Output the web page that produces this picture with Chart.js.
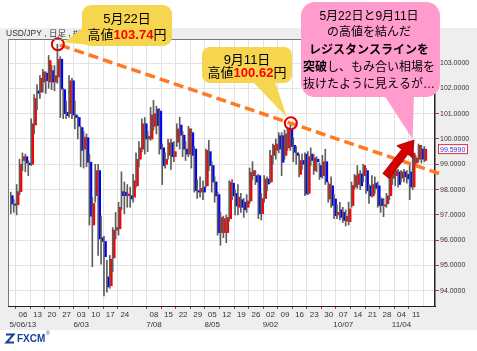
<!DOCTYPE html>
<html>
<head>
<meta charset="utf-8">
<script src="https://cdn.jsdelivr.net/npm/chart.js@4.4.1/dist/chart.umd.min.js"></script>
<style>
  html, body { margin: 0; padding: 0; background: #fff; }
</style>
</head>
<body>
<canvas id="chart" width="477" height="351"></canvas>
<script>
// USD/JPY daily candles, 2013-04-30 .. 2013-11-14
const days = [
  '4/30','5/1','5/2','5/3',
  '5/6','5/7','5/8','5/9','5/10',
  '5/13','5/14','5/15','5/16','5/17',
  '5/20','5/21','5/22','5/23','5/24',
  '5/27','5/28','5/29','5/30','5/31',
  '6/3','6/4','6/5','6/6','6/7',
  '6/10','6/11','6/12','6/13','6/14',
  '6/17','6/18','6/19','6/20','6/21',
  '6/24','6/25','6/26','6/27','6/28',
  '7/1','7/2','7/3','7/4','7/5',
  '7/8','7/9','7/10','7/11','7/12',
  '7/15','7/16','7/17','7/18','7/19',
  '7/22','7/23','7/24','7/25','7/26',
  '7/29','7/30','7/31','8/1','8/2',
  '8/5','8/6','8/7','8/8','8/9',
  '8/12','8/13','8/14','8/15','8/16',
  '8/19','8/20','8/21','8/22','8/23',
  '8/26','8/27','8/28','8/29','8/30',
  '9/2','9/3','9/4','9/5','9/6',
  '9/9','9/10','9/11','9/12','9/13',
  '9/16','9/17','9/18','9/19','9/20',
  '9/23','9/24','9/25','9/26','9/27',
  '9/30','10/1','10/2','10/3','10/4',
  '10/7','10/8','10/9','10/10','10/11',
  '10/14','10/15','10/16','10/17','10/18',
  '10/21','10/22','10/23','10/24','10/25',
  '10/28','10/29','10/30','10/31','11/1',
  '11/4','11/5','11/6','11/7','11/8',
  '11/11','11/12','11/13','11/14'
];

const open = [
  97.76,97.43,97.40,97.92,
  99.15,99.30,99.05,99.00,100.55,
  101.90,101.85,102.25,102.60,102.25,
  102.70,102.25,102.45,103.15,101.95,
  101.05,101.00,102.30,100.95,100.85,
  100.45,99.60,100.05,99.08,96.60,
  97.76,98.75,96.10,95.95,94.55,
  94.20,95.30,96.40,96.45,97.92,
  97.90,97.76,97.76,97.70,98.15,
  99.20,99.60,100.60,100.00,100.00,
  100.50,101.18,101.10,99.65,99.00,
  99.35,99.85,99.30,99.87,100.55,
  100.15,99.60,99.40,100.25,99.60,
  97.96,97.90,98.10,98.15,99.50,
  98.95,98.30,97.80,96.30,96.30,
  96.30,96.85,98.25,97.85,97.30,
  97.60,97.50,97.30,97.55,98.55,
  98.55,98.55,97.05,97.65,98.42,
  98.30,99.35,99.55,100.13,100.13,
  99.35,99.65,100.35,99.75,99.45,
  98.60,99.15,99.40,97.85,99.40,
  98.75,99.20,98.95,98.55,99.10,
  97.63,98.15,97.63,97.00,97.20,
  97.10,96.75,96.73,97.37,98.10,
  98.20,98.62,98.55,98.75,98.15,
  97.75,98.25,98.15,97.63,97.35,
  97.44,97.76,98.45,98.55,98.70,
  98.45,98.70,98.60,98.70,98.10,
  99.05,99.20,99.60,99.15
];

const high = [
  97.90,97.60,98.20,99.20,
  99.45,99.40,99.14,100.80,101.75,
  102.15,102.50,102.75,102.65,103.30,
  102.90,102.90,103.74,103.25,102.00,
  101.50,102.50,102.40,101.50,100.90,
  100.50,100.30,100.20,99.40,97.70,
  99.00,99.00,96.95,96.15,95.20,
  95.40,96.50,97.10,97.50,98.70,
  98.30,98.20,98.10,98.60,99.45,
  99.90,100.80,100.85,100.30,101.25,
  101.53,101.30,101.20,99.80,99.45,
  100.00,100.00,99.90,100.60,100.86,
  100.30,99.90,100.50,100.40,99.70,
  98.40,98.50,98.35,99.60,99.95,
  99.10,98.50,97.90,97.10,96.95,
  97.00,98.35,98.40,98.00,98.20,
  97.85,97.65,97.80,98.85,99.10,
  98.75,98.60,97.85,98.55,98.50,
  99.55,99.80,100.00,100.25,100.25,
  100.35,100.45,100.62,100.05,99.70,
  99.40,99.40,99.45,99.50,99.65,
  99.40,99.30,99.05,99.35,99.60,
  98.30,98.50,97.80,97.40,97.50,
  97.30,97.20,97.50,98.30,98.60,
  98.95,98.75,99.00,98.85,98.20,
  98.55,98.50,98.30,97.70,97.65,
  97.85,98.60,98.75,98.90,98.80,
  98.75,98.80,98.75,99.05,99.55,
  99.35,99.80,99.75,99.70
];

const low = [
  97.05,97.10,97.00,97.80,
  98.75,98.70,98.55,98.95,100.20,
  101.15,101.60,101.85,101.80,102.00,
  101.95,101.90,102.20,100.85,100.80,
  100.80,100.85,100.80,100.40,100.00,
  98.90,98.85,98.90,96.60,94.95,
  97.50,95.40,95.05,93.80,93.95,
  94.10,94.75,96.05,96.20,97.20,
  97.05,97.30,97.30,97.50,98.10,
  98.90,99.50,99.40,99.50,99.95,
  100.35,100.20,99.40,98.20,98.85,
  99.20,98.80,99.10,99.70,99.60,
  99.30,99.15,99.30,98.85,97.90,
  97.65,97.70,97.60,98.10,98.75,
  97.90,97.50,96.20,95.80,96.10,
  95.90,96.75,97.60,97.00,97.00,
  97.10,96.90,97.10,97.45,98.40,
  98.20,96.85,96.80,97.50,97.95,
  98.25,99.00,99.20,99.45,98.55,
  99.20,99.55,99.55,99.10,99.00,
  98.50,98.80,97.76,97.80,98.95,
  98.60,98.70,98.40,98.45,98.20,
  97.50,97.30,96.85,96.85,96.80,
  96.70,96.56,96.60,97.30,98.00,
  98.05,98.00,98.30,97.85,97.45,
  97.70,97.85,97.30,97.10,96.93,
  97.30,97.60,98.20,98.15,98.10,
  98.30,98.30,98.25,97.60,98.00,
  98.90,99.10,99.05,99.10
];

const close = [
  97.43,97.38,97.92,99.00,
  99.30,99.05,98.98,100.60,101.60,
  101.80,102.40,102.65,102.30,103.10,
  102.25,102.50,103.15,101.97,101.00,
  100.92,102.30,100.95,100.85,100.50,
  99.55,100.07,99.08,96.95,97.45,
  98.75,96.05,95.95,95.35,94.15,
  95.25,96.40,96.50,97.30,97.76,
  97.76,97.83,97.63,98.35,99.20,
  99.65,100.60,100.00,100.10,100.95,
  101.00,100.53,99.60,98.95,99.20,
  99.85,99.30,99.50,100.40,100.15,
  99.60,99.40,100.40,99.35,97.96,
  97.90,98.05,97.90,99.55,98.95,
  98.30,97.75,96.30,96.90,96.85,
  96.90,98.30,97.75,97.35,97.70,
  97.30,97.20,97.55,98.68,98.75,
  98.30,97.05,97.65,98.42,98.22,
  99.35,99.75,99.80,99.60,99.08,
  100.20,100.35,99.70,99.47,99.35,
  99.15,99.00,97.83,99.30,99.15,
  99.25,99.10,98.50,99.10,98.30,
  98.22,97.37,96.97,97.10,96.90,
  96.78,96.95,97.24,98.16,98.55,
  98.62,98.15,98.95,97.95,97.75,
  98.20,98.05,97.37,97.37,97.40,
  97.75,98.55,98.70,98.75,98.20,
  98.70,98.50,98.42,98.10,99.44,
  99.25,99.75,99.20,99.599
];

// weekly tick labels (Mondays); the 7/01 tick has no label in the original
const weekLabels = ['06','13','20','27','03','10','17','24','','08','15','22','29',
  '05','12','19','26','02','09','16','23','30','07','14','21','28','04','11'];
const monthLabels = ['5/06/13','','','','6/03','','','','','7/08','','','',
  '8/05','','','','9/02','','','','','10/07','','','','11/04',''];
const yTicks = [94, 95, 96, 97, 98, 99, 100, 101, 102, 103];

// the two highs that define the resistance line
const highPoints = [{day: '5/22', value: 103.74}, {day: '9/11', value: 100.62}];
const lastPrice = 99.599;

[open, high, low, close].forEach(a => {
  if (a.length !== days.length) throw new Error('length mismatch ' + a.length);
});

const mondays = days.map((d, i) => {
  const [m, dd] = d.split('/').map(Number);
  return new Date(2013, m - 1, dd).getDay() === 1 ? i : -1;
}).filter(i => i >= 0);

const X_MIN = -1.13, X_MAX = 145.5;
const i1 = days.indexOf(highPoints[0].day), i2 = days.indexOf(highPoints[1].day);
const slope = (highPoints[1].value - highPoints[0].value) / (i2 - i1);
const trendAt = x => highPoints[0].value + slope * (x - i1);
const trend = [{x: i1 + 0.8, y: trendAt(i1 + 0.8)}, {x: X_MAX + 1.7, y: trendAt(X_MAX + 1.7)}];
const circles = highPoints.map(p => ({x: days.indexOf(p.day), y: p.value}));

const FONT = '"Liberation Sans", Arial, "Noto Sans CJK JP", sans-serif';

function roundRect(ctx, x, y, w, h, r) {
  ctx.beginPath();
  ctx.moveTo(x + r, y);
  ctx.arcTo(x + w, y, x + w, y + h, r);
  ctx.arcTo(x + w, y + h, x, y + h, r);
  ctx.arcTo(x, y + h, x, y, r);
  ctx.arcTo(x, y, x + w, y, r);
  ctx.closePath();
}

function bubble(ctx, box, tail, color) {
  ctx.fillStyle = color;
  roundRect(ctx, box[0], box[1], box[2], box[3], box[4]);
  ctx.fill();
  ctx.beginPath();
  ctx.moveTo(tail[0][0], tail[0][1]);
  ctx.lineTo(tail[1][0], tail[1][1]);
  ctx.lineTo(tail[2][0], tail[2][1]);
  ctx.closePath();
  ctx.fill();
}

// text made of [string, colour, bold] pieces, centred on cx
function segText(ctx, segs, cx, y, size) {
  let total = 0;
  const ws = segs.map(s => {
    ctx.font = (s[2] ? 'bold ' : '') + size + 'px ' + FONT;
    const w = ctx.measureText(s[0]).width;
    total += w;
    return w;
  });
  let x = cx - total / 2;
  ctx.textAlign = 'left';
  ctx.textBaseline = 'middle';
  segs.forEach((s, k) => {
    ctx.font = (s[2] ? 'bold ' : '') + size + 'px ' + FONT;
    ctx.fillStyle = s[1];
    ctx.fillText(s[0], x, y);
    x += ws[k];
  });
}

function arrow(ctx, x0, y0, x1, y1, shaft, headW, headL, color) {
  const dx = x1 - x0, dy = y1 - y0, len = Math.hypot(dx, dy);
  const ux = dx / len, uy = dy / len, nx = -uy, ny = ux;
  const bx = x1 - ux * headL, by = y1 - uy * headL;
  ctx.beginPath();
  ctx.moveTo(x0 + nx * shaft, y0 + ny * shaft);
  ctx.lineTo(bx + nx * shaft, by + ny * shaft);
  ctx.lineTo(bx + nx * headW, by + ny * headW);
  ctx.lineTo(x1, y1);
  ctx.lineTo(bx - nx * headW, by - ny * headW);
  ctx.lineTo(bx - nx * shaft, by - ny * shaft);
  ctx.lineTo(x0 - nx * shaft, y0 - ny * shaft);
  ctx.closePath();
  ctx.fillStyle = color;
  ctx.fill();
  ctx.strokeStyle = '#9a0000';
  ctx.lineWidth = 0.8;
  ctx.stroke();
}

const frame = {
  id: 'frame',
  beforeDraw(chart) {
    const ctx = chart.ctx, a = chart.chartArea;
    ctx.save();
    ctx.fillStyle = '#ffffff';
    ctx.fillRect(0, 0, chart.width, chart.height);
    ctx.fillStyle = '#eeeeee';
    ctx.fillRect(0, 28, chart.width, 302);
    ctx.fillStyle = '#ffffff';
    ctx.fillRect(a.left, a.top, a.right - a.left, a.bottom - a.top);
    ctx.fillStyle = '#333';
    ctx.font = '8.5px ' + FONT;
    ctx.textBaseline = 'middle';
    ctx.textAlign = 'left';
    ctx.fillText('USD/JPY , 日足 , #1440', 6, 34);
    ctx.restore();
  },
  afterDraw(chart) {
    const ctx = chart.ctx, a = chart.chartArea;
    const xs = chart.scales.x, ys = chart.scales.y;
    ctx.save();
    // plot frame (left / top)
    ctx.strokeStyle = '#777';
    ctx.lineWidth = 1;
    ctx.beginPath();
    ctx.moveTo(a.left + 0.5, a.bottom);
    ctx.lineTo(a.left + 0.5, a.top + 0.5);
    ctx.lineTo(a.right, a.top + 0.5);
    ctx.stroke();

    // current price box
    const py = ys.getPixelForValue(lastPrice);
    ctx.fillStyle = '#ffffff';
    ctx.fillRect(438, py - 4.5, 29, 9);
    ctx.strokeStyle = '#e03030';
    ctx.strokeRect(438.5, py - 4.5, 29, 9);
    ctx.fillStyle = '#2a2af0';
    ctx.font = '7px ' + FONT;
    ctx.textAlign = 'left';
    ctx.textBaseline = 'middle';
    ctx.fillText(lastPrice.toFixed(4), 440, py + 0.5);

    const c1 = {x: xs.getPixelForValue(circles[0].x), y: ys.getPixelForValue(circles[0].y)};
    const c2 = {x: xs.getPixelForValue(circles[1].x), y: ys.getPixelForValue(circles[1].y)};

    // callout 1 : 5/22 high
    bubble(ctx, [82, 5, 90, 41, 9], [[84, 27], [c1.x + 6, c1.y - 2], [98, 46]], '#f6d54f');
    segText(ctx, [['5月22日', '#000', false]], 127, 19, 13);
    segText(ctx, [['高値', '#000', false], ['103.74', '#ff0000', true], ['円', '#000', false]], 127, 35, 13);

    // callout 2 : 9/11 high
    bubble(ctx, [202, 47, 90, 36, 8], [[253, 82], [c2.x - 4, c2.y - 6], [275, 82]], '#f6d54f');
    segText(ctx, [['9月11日', '#000', false]], 247, 60, 13);
    segText(ctx, [['高値', '#000', false], ['100.62', '#ff0000', true], ['円', '#000', false]], 247, 73, 13);

    // pink comment bubble
    const tip = {x: xs.getPixelForValue(mondays[mondays.length - 2] + 3.8), y: ys.getPixelForValue(100)};
    bubble(ctx, [301, 2, 139, 95, 14], [[384, 95], [tip.x, tip.y], [414, 95]], '#ff9bcd');
    segText(ctx, [['5月22日と9月11日', '#000', false]], 369, 17, 12);
    segText(ctx, [['の高値を結んだ', '#000', false]], 369, 33, 12);
    segText(ctx, [['レジスタンスラインを', '#000', true]], 369, 51, 12);
    segText(ctx, [['突破', '#000', true], ['し、もみ合い相場を', '#000', false]], 369, 68, 12);
    segText(ctx, [['抜けたように見えるが…', '#000', false]], 369, 85, 12);

    // red arrow
    arrow(ctx, 386, 176, 414, 140, 4, 10, 15, '#d40000');

    // FXCM logo
    ctx.strokeStyle = '#1d3f9a';
    ctx.lineWidth = 2;
    ctx.beginPath();
    ctx.moveTo(6, 334.5); ctx.lineTo(13.5, 334.5);
    ctx.lineTo(6.5, 342.5); ctx.lineTo(14, 342.5);
    ctx.stroke();
    ctx.fillStyle = '#1d3f9a';
    ctx.font = 'bold 10px ' + FONT;
    ctx.textAlign = 'left';
    ctx.textBaseline = 'middle';
    ctx.fillText('FXCM', 17, 339);
    ctx.font = '5px ' + FONT;
    ctx.fillText('®', 46, 334);
    ctx.restore();
  }
};

new Chart(document.getElementById('chart').getContext('2d'), {
  type: 'bar',
  data: {
    datasets: [
      {
        label: 'range',
        data: days.map((d, i) => ({x: i, y: [low[i], high[i]]})),
        backgroundColor: '#5e5e5e',
        barThickness: 1
      },
      {
        label: 'body',
        data: days.map((d, i) => ({x: i, y: [open[i], close[i]]})),
        backgroundColor: c => close[c.dataIndex] >= open[c.dataIndex] ? '#ff0000' : '#0000ff',
        barThickness: 2
      },
      {
        type: 'line',
        label: 'resistance',
        data: trend,
        borderColor: '#ff7a22',
        borderWidth: 3.5,
        borderDash: [10, 5],
        pointRadius: 0,
        clip: false,
        order: -1
      },
      {
        type: 'scatter',
        label: 'highs',
        data: circles,
        pointRadius: 6,
        pointBorderWidth: 2,
        borderColor: '#e00000',
        backgroundColor: 'rgba(0,0,0,0)',
        clip: false,
        order: -2
      }
    ]
  },
  options: {
    responsive: false,
    devicePixelRatio: 1,
    animation: false,
    layout: {padding: {left: 6, top: 39, right: 0, bottom: 21}},
    plugins: {legend: {display: false}, tooltip: {enabled: false}},
    scales: {
      x: {
        type: 'linear',
        min: X_MIN,
        max: X_MAX,
        offset: false,
        afterBuildTicks: s => { s.ticks = mondays.map(i => ({value: i})); },
        afterFit: s => { s.height = 24; },
        grid: {
          color: '#e3e3e3',
          tickLength: 3,
          tickColor: c => weekLabels[c.index] ? '#e02020' : 'rgba(0,0,0,0)'
        },
        border: {display: true, color: '#222', width: 1},
        ticks: {
          autoSkip: false,
          maxRotation: 0,
          padding: 1,
          color: '#333',
          font: {family: FONT, size: 8},
          callback: (v, k) => monthLabels[k] ? [weekLabels[k], monthLabels[k]] : weekLabels[k]
        }
      },
      y: {
        position: 'right',
        min: 93.4,
        max: 103.95,
        afterBuildTicks: s => { s.ticks = yTicks.map(v => ({value: v})); },
        afterFit: s => { s.width = 42; },
        grid: {color: '#e3e3e3', tickLength: 4, tickColor: '#e02020'},
        border: {display: true, color: '#222', width: 1.5},
        ticks: {
          padding: 1,
          color: '#333',
          font: {family: FONT, size: 7},
          callback: v => Number(v).toFixed(4)
        }
      }
    }
  },
  plugins: [frame]
});
</script>
</body>
</html>
